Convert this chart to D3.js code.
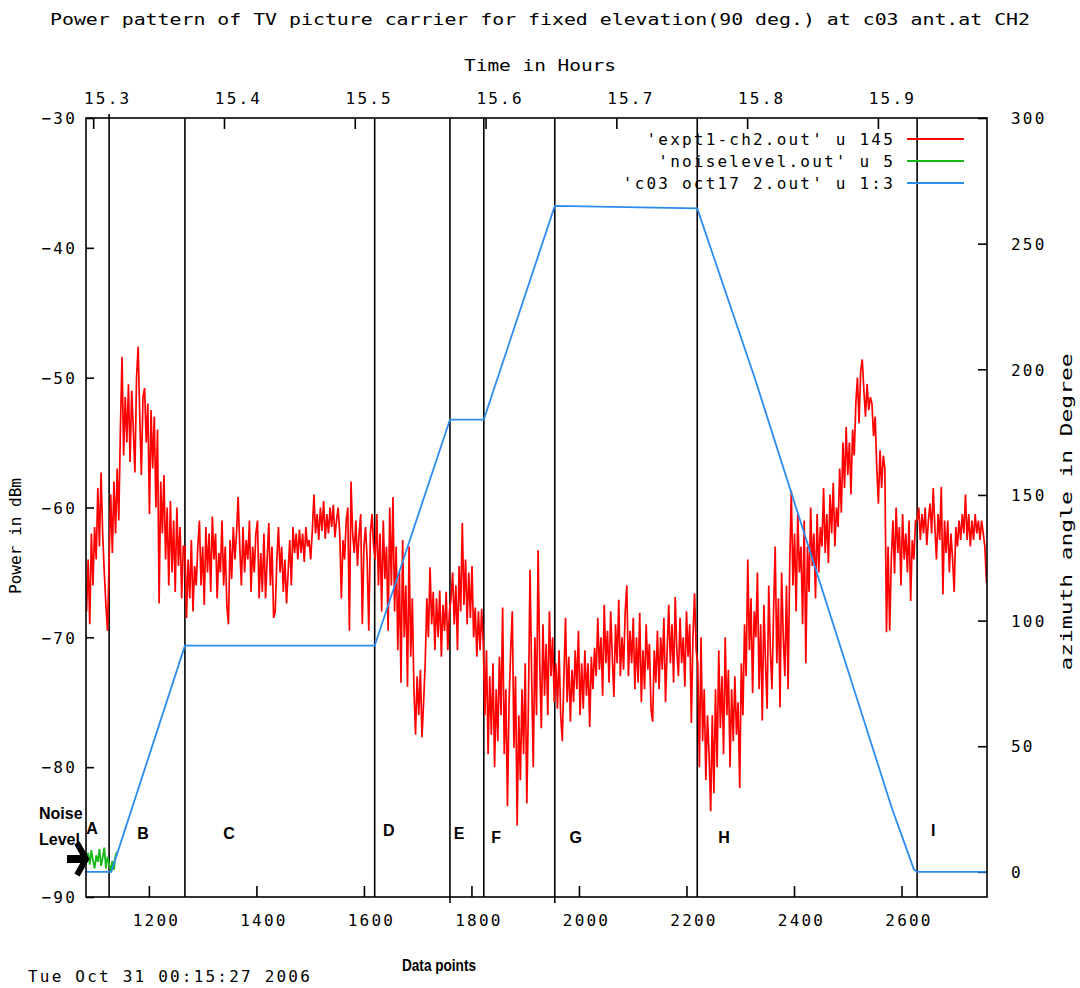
<!DOCTYPE html>
<html><head><meta charset="utf-8">
<script src="https://cdn.jsdelivr.net/npm/d3@7"></script>
<style>
body{margin:0;background:#fff}
svg{display:block}
text{font-family:"DejaVu Sans Mono",monospace;font-size:16px;fill:#000}
</style>
</head><body><svg id="c" width="1080" height="988"></svg>
<script>
// ---------- data ----------
const chartTitle = "Power pattern of TV picture carrier for fixed elevation(90 deg.) at c03 ant.at CH2";
const leftTicks = [-30, -40, -50, -60, -70, -80, -90];
const rightTicks = [0, 50, 100, 150, 200, 250, 300];
const bottomTicks = [1200, 1400, 1600, 1800, 2000, 2200, 2400, 2600];
const topTicks = [15.3, 15.4, 15.5, 15.6, 15.7, 15.8, 15.9];
const hoursRange = [15.2945, 15.9834];      // time (h) at first / last data point
const pointRange = [1083, 2759];            // data point range of the plot
const regionBounds = [1126, 1267, 1620, 1760, 1823, 1955, 2220, 2629];
const regionNames = ["A", "B", "C", "D", "E", "F", "G", "H", "I"];
const regionLabelX = [1094, 1189, 1349, 1646, 1777, 1846, 1994, 2270, 2659];
const regionLabelY = [-84.7, -85.1, -85.1, -84.85, -85.1, -85.4, -85.4, -85.4, -84.9];

// red: 'expt1-ch2.out' u 145  (power, dBm), one value every 3 data points, per region
const redStep = 3;
const redSegStart = [1084, 1126, 1267, 1621, 1762, 1825, 1957, 2221, 2629];
const powerA = [-68, -64, -69, -62, -66, -61.5, -64, -58.5, -63, -57.3, -62, -65, -67.5, -69.5];
const powerB = [-64, -59, -63.5, -58, -62, -57, -61, -54, -48.4, -56, -51.5, -55, -50.5, -56.5, -51, -54,
  -57.3, -50, -47.6, -53, -57.5, -51.5, -50.8, -55, -52, -60.5, -52.5, -57, -53, -60, -54,
  -67.4, -58, -62, -57.5, -64, -60, -66, -59.5, -65, -61, -66.5, -60, -64.5, -61.5, -67, -63];
const powerC = [-63, -68.5, -64, -67, -62.5, -68, -64.5, -66, -63,
  -61, -66, -63, -67.5, -61.5, -65, -62, -66.5, -60.7, -64,
  -62, -67, -63.5, -65, -61, -66, -63, -67.5, -69, -62.5,
  -65.5, -61.5, -64, -62, -59.2,
  -63, -66, -61.5, -65, -62.5, -64, -61, -66.5, -63, -65,
  -62, -61, -67, -63.5, -66.5, -62, -67, -64, -61.2, -66,
  -63, -68.5, -68, -64, -61.5,
  -65, -63, -66.5, -64, -67.4, -65, -62.5, -66, -61.5, -63.5,
  -62, -64, -61.7, -63.5, -62, -64.2, -61.5, -63, -62.5, -64, -61.8, -59,
  -62, -60.5, -62.5, -60, -61.8, -59.5, -62.4, -60.5, -62, -60, -61.5, -59.8, -62.3, -61, -60, -62,
  -67, -62.5, -64, -61, -60, -69.5, -58, -62, -63.5, -61, -64.5, -62, -60.5, -69, -63, -61.5, -64, -69.5, -62, -60.5, -63];
const powerD = [-64, -60.5, -66, -62, -68, -61, -65.5,
  -63, -69.5, -60, -66, -59.2, -68,
  -63, -71, -65, -73.5, -62.5, -70, -66, -73.8, -63, -71.5, -67, -74,
  -77.5, -73, -76, -72.5, -77.7, -75,
  -72, -67, -70, -64.6,
  -69, -66.5, -71, -67, -70, -66.4, -71.5, -67.5, -69.5, -66.5, -71, -68];
const powerE = [-67, -65, -69, -66, -71, -64.5, -68, -61.2, -67.5, -64, -69, -65, -68.5, -64.5, -70, -67.7, -71.5, -68, -71, -67.8, -70.5];
const powerF = [-76, -71, -79, -73, -77.5, -72, -80, -74, -78, -71.5, -76,
  -67.7, -79, -74, -83, -75, -71, -68, -78.5, -73, -84.5,
  -76, -81, -74, -79, -72, -82.8, -75, -64.8, -73, -80,
  -70, -76, -63.3, -72, -77, -69, -74.5, -70.5, -76, -68, -73, -70, -75];
const powerG = [-72, -75.5, -71, -76, -78, -73, -68.5, -75, -71.5, -76.5,
  -72.5, -75, -71, -74, -69.5, -76, -72, -75.5, -71, -74.5,
  -72, -76.9, -71.5, -74, -70.8,
  -73, -68.5, -72.5, -70, -74.5, -67.5, -72, -69.5, -73.5, -68,
  -71.5, -74.6, -69, -72, -67.1, -73, -70, -72.5, -68, -66,
  -73, -69.5, -72, -68.5, -74,
  -70, -73.5, -68.1, -75, -71, -74, -69, -72.5, -70.5, -75.5,
  -76.5, -71, -73.5, -69.5, -74, -70, -72.5, -68.5, -75, -71,
  -67.5, -72, -69, -73.5, -66.9, -71, -73, -68.5, -72, -70,
  -73.8, -68, -71.5, -69, -76.6, -70, -66.6, -71];
const powerH = [-72, -80, -70, -78, -74, -81, -76,
  -79, -83.4, -76, -82, -74, -80,
  -71, -77, -73, -79, -70, -76, -72.5, -80, -74, -78,
  -73, -77.5, -75, -81.6, -72, -76,
  -69, -73, -64, -71, -67, -74.3, -68,
  -70, -65, -74, -69, -76.4, -67.5, -72, -75.5, -66, -71, -74, -68,
  -63, -72, -67, -75.4, -65, -70, -73, -66, -74, -64.5,
  -58.7, -66, -62, -68, -60.5, -65, -63, -69, -61, -72,
  -63, -66.5, -60, -64.5, -62, -67, -60.5, -65, -61.5, -63,
  -58.5, -63.5, -60.5, -64.3, -59, -62, -58.1, -63, -60, -61.5,
  -57, -60.4, -55, -58.5, -53.8, -57.5, -55, -59, -54, -56,
  -52, -50, -53.5, -49.5, -48.6, -51, -53, -50.5, -52.5, -51.5, -52,
  -54.5, -53, -57, -59.7, -55.6, -58.5, -56, -57,
  -69.6, -63, -69.5, -64,
  -61, -65.1, -60, -63.5, -61.5, -66, -60.5, -64, -62, -65, -61, -67.2, -62.5, -64, -61];
const powerI = [-61, -60, -62.5, -60.5, -62, -60, -62.9, -61, -59.7, -62,
  -58.5, -61.5, -64, -60.5, -62.5, -58.4,
  -66.7, -61, -63.5, -61, -65, -62, -64, -66.5, -61.5, -63,
  -61, -62.5, -60.5, -62, -59, -62.5, -60.5, -63, -61, -62.5,
  -60.5, -62, -61, -62.5, -61, -62, -63, -65.8];

// green: 'noiselevel.out' u 5
const noiseStart = 1084, noiseStep = 3;
const noisePower = [-87, -86.6, -87.5, -86.4, -87.2, -87.8, -86.8, -87.3, -86.3, -87.6, -87.0, -86.2, -87.8, -86.9, -87.5, -88.0, -87.2, -87.9, -86.8, -86.5];

// blue: 'c03 oct17 2.out' u 1:3  (azimuth, degrees)
const azPoints = [1083, 1130, 1267, 1620, 1760, 1823, 1955, 2220, 2327, 2582, 2623, 2629, 2759];
const azDegree = [0, 0, 90, 90, 180, 180, 265, 264, 196.5, 25.4, 1, 0, 0];

const legendLabels = ["'expt1-ch2.out' u 145", "'noiselevel.out' u 5", "'c03 oct17 2.out' u 1:3"];
const legendColors = ["#ff0000", "#19b919", "#2b8cf0"];

// ---------- drawing ----------
const svg = d3.select("#c");
const L = 86, R = 987, T = 118, B = 897;
const x = d3.scaleLinear().domain(pointRange).range([L, R]);
const xTop = d3.scaleLinear().domain(hoursRange).range([L, R]);
const yL = d3.scaleLinear().domain([-90, -30]).range([B, T]);
const yR = d3.scaleLinear().domain([-10, 300]).range([B, T]);

// title
svg.append("text").attr("x", 540).attr("y", 25).attr("text-anchor", "middle")
  .attr("textLength", 980).attr("lengthAdjust", "spacingAndGlyphs").text(chartTitle);
svg.append("text").attr("x", 540).attr("y", 71).attr("text-anchor", "middle")
  .attr("textLength", 152).attr("lengthAdjust", "spacingAndGlyphs").text("Time in Hours");

// axes
const fmtTop = d3.format(".1f");
const gL = svg.append("g").attr("transform", `translate(${L},0)`)
  .call(d3.axisLeft(yL).tickValues(leftTicks).tickSizeInner(-8).tickSizeOuter(0).tickPadding(9));
const gR = svg.append("g").attr("transform", `translate(${R},0)`)
  .call(d3.axisRight(yR).tickValues(rightTicks).tickSizeInner(-9).tickSizeOuter(0).tickPadding(24));
const gB = svg.append("g").attr("transform", `translate(0,${B})`)
  .call(d3.axisBottom(x).tickValues(bottomTicks).tickSizeInner(-11).tickSizeOuter(0).tickFormat(d3.format("d")));
const gT = svg.append("g").attr("transform", `translate(0,${T})`)
  .call(d3.axisTop(xTop).tickValues(topTicks).tickSizeInner(-11).tickSizeOuter(0).tickFormat(fmtTop));
[gL, gR, gB, gT].forEach(g => {
  g.select(".domain").remove();
  g.selectAll(".tick line").attr("stroke", "#000").attr("stroke-width", 1.6);
  g.selectAll(".tick text").attr("font-family", "DejaVu Sans Mono").attr("font-size", 16)
    .style("letter-spacing", "2.2px").attr("fill", "#000");
});
gL.selectAll(".tick text").attr("x", -9).attr("dy", "0.36em");
gR.selectAll(".tick text").attr("x", 24).attr("dy", "0.36em");
gB.selectAll(".tick text").attr("y", 29).attr("dy", 0).attr("dx", 7);
gT.selectAll(".tick text").attr("y", -14).attr("dy", 0).attr("dx", 14);

// axis labels
svg.append("text").attr("transform", "translate(21,536) rotate(-90)").attr("text-anchor", "middle")
  .attr("textLength", 116).attr("lengthAdjust", "spacingAndGlyphs").text("Power in dBm");
svg.append("text").attr("transform", "translate(1072,512) rotate(-90)").attr("text-anchor", "middle")
  .attr("textLength", 317).attr("lengthAdjust", "spacingAndGlyphs").text("azimuth angle in Degree");

// region boundary lines
svg.append("g").selectAll("line").data(regionBounds).join("line")
  .attr("x1", d => x(d)).attr("x2", d => x(d))
  .attr("y1", (d, i) => i === 0 ? T - 4 : T).attr("y2", (d, i) => (i === 3 || i === 5) ? B + 6 : B)
  .attr("stroke", "#000").attr("stroke-width", 1.6);

// clip
svg.append("clipPath").attr("id", "clip").append("rect")
  .attr("x", L).attr("y", T).attr("width", R - L).attr("height", B - T);
const plot = svg.append("g").attr("clip-path", "url(#clip)");

// red series
const redSegs = [powerA, powerB, powerC, powerD, powerE, powerF, powerG, powerH, powerI];
const red = [];
redSegs.forEach((seg, s) => seg.forEach((v, k) => red.push([redSegStart[s] + redStep * k, v])));
plot.append("path").datum(red)
  .attr("d", d3.line().x(d => x(d[0])).y(d => yL(d[1])))
  .attr("fill", "none").attr("stroke", legendColors[0]).attr("stroke-width", 1.7)
  .attr("stroke-linejoin", "miter");

// green series
const green = noisePower.map((v, k) => [noiseStart + noiseStep * k, v]);
plot.append("path").datum(green)
  .attr("d", d3.line().x(d => x(d[0])).y(d => yL(d[1])))
  .attr("fill", "none").attr("stroke", legendColors[1]).attr("stroke-width", 1.8);

// blue series
const blue = azPoints.map((p, k) => [p, azDegree[k]]);
plot.append("path").datum(blue)
  .attr("d", d3.line().x(d => x(d[0])).y(d => yR(d[1])))
  .attr("fill", "none").attr("stroke", legendColors[2]).attr("stroke-width", 1.8);

// frame
svg.append("rect").attr("x", L).attr("y", T).attr("width", R - L).attr("height", B - T)
  .attr("fill", "none").attr("stroke", "#000").attr("stroke-width", 1.6);

// legend
const lg = svg.append("g");
const legY = [139, 161, 183];
legendLabels.forEach((t, i) => {
  lg.append("text").attr("x", 895).attr("y", legY[i] + 6).attr("text-anchor", "end")
    .style("letter-spacing", "2.2px").text(t);
  lg.append("line").attr("x1", 907).attr("x2", 964).attr("y1", legY[i]).attr("y2", legY[i])
    .attr("stroke", legendColors[i]).attr("stroke-width", 1.8);
});

// region letters
svg.append("g").selectAll("text").data(regionNames).join("text")
  .attr("x", (d, i) => x(regionLabelX[i])).attr("y", (d, i) => yL(regionLabelY[i]))
  .attr("text-anchor", "middle").attr("dominant-baseline", "central")
  .style("font-family", "Liberation Sans").attr("font-weight", "bold").attr("font-size", 12)
  .text(d => d);

// noise level annotation
const ann = svg.append("g").attr("font-weight", "bold").attr("font-size", 12);
ann.append("text").attr("x", 39).attr("y", 819).style("font-family", "Liberation Sans").text("Noise");
ann.append("text").attr("x", 39).attr("y", 845).style("font-family", "Liberation Sans").text("Level");
svg.append("rect").attr("x", 67).attr("y", 855).attr("width", 17).attr("height", 8).attr("fill", "#000");
svg.append("path").attr("d", "M77,843 L86,859 L77,875").attr("fill", "none")
  .attr("stroke", "#000").attr("stroke-width", 6).attr("stroke-linejoin", "miter");

// footer
svg.append("text").attr("x", 28).attr("y", 982).style("letter-spacing", "2.2px").text("Tue Oct 31 00:15:27 2006");
svg.append("text").attr("x", 439).attr("y", 971).attr("text-anchor", "middle")
  .style("font-family", "Liberation Sans").attr("font-weight", "bold").attr("font-size", 12)
  .attr("textLength", 74).attr("lengthAdjust", "spacingAndGlyphs").text("Data points");
</script>
</body></html>
